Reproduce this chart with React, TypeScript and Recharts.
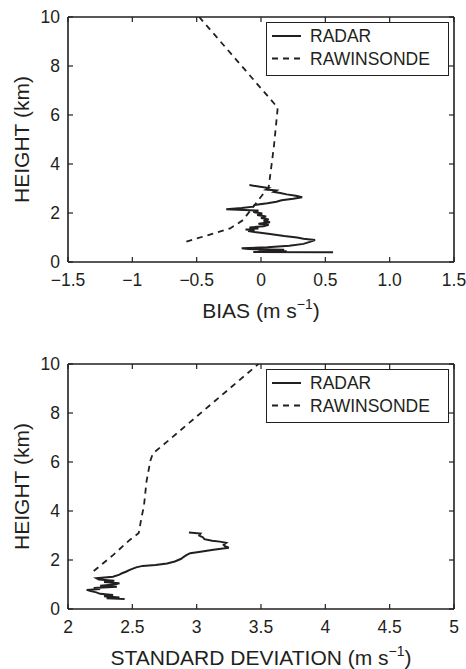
import React from 'react';
import { LineChart, Line, XAxis, YAxis, Legend } from 'recharts';

// vertical profiles: [value, height km]
const BIAS_RADAR: [number, number][] = [
    [0.56, 0.40], [-0.06, 0.41], [0.20, 0.44], [-0.02, 0.46], [0.18, 0.50], [-0.10, 0.53], [-0.15, 0.56],
    [0.05, 0.60], [0.22, 0.66], [0.33, 0.74], [0.38, 0.82], [0.42, 0.90], [0.33, 0.95], [0.28, 1.00],
    [0.18, 1.06], [0.07, 1.14], [-0.02, 1.20], [-0.10, 1.26], [-0.05, 1.29], [-0.12, 1.33], [-0.02, 1.37],
    [-0.09, 1.41], [0.02, 1.46], [0.06, 1.52], [-0.02, 1.56], [0.07, 1.62], [0.02, 1.68], [0.06, 1.74],
    [0.00, 1.80], [0.04, 1.86], [-0.03, 1.92], [0.01, 1.98], [-0.06, 2.04], [-0.02, 2.10], [-0.27, 2.15],
    [-0.15, 2.20], [-0.06, 2.26], [-0.05, 2.33], [0.05, 2.40], [0.12, 2.46], [0.16, 2.52], [0.25, 2.58],
    [0.32, 2.64], [0.27, 2.70], [0.20, 2.76], [0.15, 2.82], [0.10, 2.86], [0.12, 2.92], [0.04, 2.96],
    [0.06, 3.02], [-0.02, 3.08], [-0.09, 3.14],
];
const BIAS_RAWINSONDE: [number, number][] = [
    [-0.58, 0.83], [-0.24, 1.37], [-0.14, 1.71], [-0.03, 2.46], [0.06, 3.07], [0.10, 4.70], [0.13, 6.30], [-0.48, 10.0],
];

const STD_RADAR: [number, number][] = [
    [2.44, 0.41], [2.30, 0.44], [2.40, 0.47], [2.28, 0.52], [2.35, 0.57], [2.25, 0.62], [2.22, 0.68],
    [2.17, 0.74], [2.145, 0.78], [2.25, 0.82], [2.20, 0.86], [2.38, 0.91], [2.25, 0.95], [2.36, 1.00],
    [2.40, 1.05], [2.28, 1.10], [2.36, 1.15], [2.24, 1.20], [2.22, 1.26], [2.35, 1.32], [2.40, 1.40],
    [2.42, 1.46], [2.45, 1.52], [2.48, 1.60], [2.53, 1.70], [2.58, 1.76], [2.68, 1.80], [2.77, 1.86],
    [2.83, 1.94], [2.88, 2.05], [2.90, 2.13], [2.92, 2.20], [2.95, 2.28], [3.03, 2.34], [3.13, 2.42],
    [3.25, 2.50], [3.22, 2.56], [3.21, 2.62], [3.23, 2.70], [3.18, 2.75], [3.12, 2.79], [3.06, 2.85],
    [3.05, 2.92], [3.02, 3.00], [3.03, 3.08], [2.94, 3.12],
];
const STD_RAWINSONDE: [number, number][] = [
    [2.20, 1.55], [2.35, 2.20], [2.48, 2.82], [2.55, 3.10], [2.57, 3.70], [2.59, 4.20], [2.61, 5.20],
    [2.64, 6.05], [2.66, 6.35], [2.77, 6.83], [3.48, 10.0],
];

const HEIGHT_TICKS = [0, 2, 4, 6, 8, 10];
const BIAS_TICKS = [-1.5, -1, -0.5, 0, 0.5, 1, 1.5];
const BIAS_TICK_LABELS = ['\u22121.5', '\u22121', '\u22120.5', '0', '0.5', '1.0', '1.5'];
const STD_TICKS = [2, 2.5, 3, 3.5, 4, 4.5, 5];
const STD_TICK_LABELS = ['2', '2.5', '3', '3.5', '4', '4.5', '5'];
const SERIES_NAMES = ['RADAR', 'RAWINSONDE'];

const FONT = '"Liberation Sans", Arial, Helvetica, sans-serif';
const INK = '#231f20';
const DASH = '6 5';

const toPoints = (rows: [number, number][]) => rows.map(([x, h]) => ({ x, h }));

function ProfileLegend() {
    return (
        <svg width={183} height={54} style={{ display: 'block' }}>
            <rect x={0.5} y={0.5} width={182} height={53} fill="#fff" stroke={INK} strokeWidth={1} />
            <line x1={6} x2={35} y1={14} y2={14} stroke={INK} strokeWidth={2} />
            <line x1={6} x2={35} y1={36.5} y2={36.5} stroke={INK} strokeWidth={1.8} strokeDasharray={DASH} />
            <text x={44} y={20} fontSize={17.5} fill={INK} fontFamily={FONT}>{SERIES_NAMES[0]}</text>
            <text x={44} y={42.5} fontSize={17.5} fill={INK} fontFamily={FONT}>{SERIES_NAMES[1]}</text>
        </svg>
    );
}

interface PanelProps {
    height: number;
    marginTop: number;
    marginBottom: number;
    xDomain: [number, number];
    xTicks: number[];
    xTickLabels: string[];
    xTitle: string;
    radar: [number, number][];
    rawinsonde: [number, number][];
}

function ProfilePanel({ height, marginTop, marginBottom, xDomain, xTicks, xTickLabels, xTitle, radar, rawinsonde }: PanelProps) {
    const tickStyle = { fontSize: 17.5, fill: INK, fontFamily: FONT };
    const axisLine = { stroke: INK, strokeWidth: 1.6 };
    const tickLine = { stroke: INK, strokeWidth: 1.2 };

    return (
        <LineChart width={466} height={height} margin={{ top: marginTop, right: 11, bottom: marginBottom, left: 18 }}>
            <XAxis
                type="number"
                dataKey="x"
                domain={xDomain}
                ticks={xTicks}
                allowDataOverflow
                height={30}
                axisLine={axisLine}
                tickLine={tickLine}
                tickSize={-5}
                tickMargin={17}
                tick={tickStyle}
                tickFormatter={(v: number) => xTickLabels[xTicks.indexOf(v)] ?? String(v)}
                label={(props: any) => {
                    const vb = props.viewBox || {};
                    return (
                        <text x={vb.x + vb.width / 2} y={vb.y + 56} textAnchor="middle" fontSize={21} fill={INK} fontFamily={FONT}>
                            {xTitle} (m s
                            <tspan dy={-9} fontSize={14}>{'\u22121'}</tspan>
                            <tspan dy={9}>)</tspan>
                        </text>
                    );
                }}
            />
            <XAxis
                xAxisId="top"
                orientation="top"
                type="number"
                dataKey="x"
                domain={xDomain}
                ticks={xTicks}
                allowDataOverflow
                height={1}
                axisLine={axisLine}
                tickLine={tickLine}
                tickSize={-5}
                tickFormatter={() => ''}
            />
            <YAxis
                type="number"
                domain={[0, 10]}
                ticks={HEIGHT_TICKS}
                allowDataOverflow
                width={50}
                axisLine={axisLine}
                tickLine={tickLine}
                tickSize={-5}
                tickMargin={13}
                tick={tickStyle}
                label={(props: any) => {
                    const vb = props.viewBox || {};
                    const cx = vb.x + 10.5;
                    const cy = vb.y + vb.height / 2;
                    return (
                        <text x={cx} y={cy} transform={`rotate(-90, ${cx}, ${cy})`} textAnchor="middle" fontSize={21} fill={INK} fontFamily={FONT}>
                            HEIGHT (km)
                        </text>
                    );
                }}
            />
            <YAxis
                yAxisId="right"
                orientation="right"
                type="number"
                domain={[0, 10]}
                ticks={HEIGHT_TICKS}
                allowDataOverflow
                width={1}
                axisLine={axisLine}
                tickLine={tickLine}
                tickSize={-5}
                tickFormatter={() => ''}
            />
            <Legend
                layout="horizontal"
                verticalAlign="middle"
                align="center"
                wrapperStyle={{ left: 266, top: marginTop + 6, width: 183, height: 54 }}
                content={() => <ProfileLegend />}
            />
            <Line
                data={toPoints(radar)}
                dataKey="h"
                name={SERIES_NAMES[0]}
                type="linear"
                stroke={INK}
                strokeWidth={2}
                dot={false}
                activeDot={false}
                isAnimationActive={false}
            />
            <Line
                data={toPoints(rawinsonde)}
                dataKey="h"
                name={SERIES_NAMES[1]}
                type="linear"
                stroke={INK}
                strokeWidth={1.8}
                strokeDasharray={DASH}
                dot={false}
                activeDot={false}
                isAnimationActive={false}
            />
        </LineChart>
    );
}

export default function App() {
    return (
        <div style={{ position: 'absolute', left: 0, top: 0, width: 466, height: 669, background: '#fff' }}>
            <ProfilePanel
                height={330}
                marginTop={16}
                marginBottom={38}
                xDomain={[-1.5, 1.5]}
                xTicks={BIAS_TICKS}
                xTickLabels={BIAS_TICK_LABELS}
                xTitle="BIAS"
                radar={BIAS_RADAR}
                rawinsonde={BIAS_RAWINSONDE}
            />
            <ProfilePanel
                height={339}
                marginTop={33}
                marginBottom={30}
                xDomain={[2, 5]}
                xTicks={STD_TICKS}
                xTickLabels={STD_TICK_LABELS}
                xTitle="STANDARD DEVIATION"
                radar={STD_RADAR}
                rawinsonde={STD_RAWINSONDE}
            />
        </div>
    );
}
